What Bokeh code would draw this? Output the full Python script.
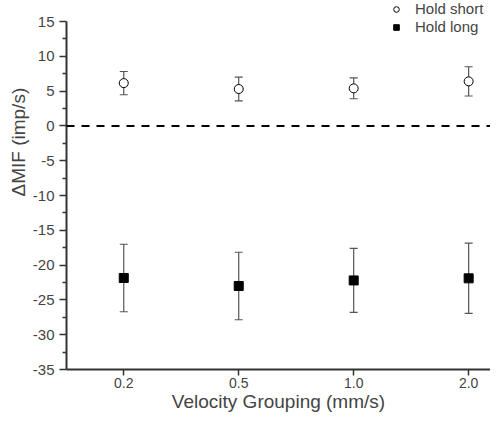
from bokeh.plotting import figure
from bokeh.models import (ColumnDataSource, Whisker, TeeHead, Span, Legend, LegendItem,
                          FixedTicker, Title)
from bokeh.embed import file_html
from bokeh.resources import INLINE

# ---- data ----
categories = ["0.2", "0.5", "1.0", "2.0"]
short_mean = [6.15, 5.3, 5.4, 6.4]
short_err = [1.67, 1.7, 1.5, 2.1]
long_mean = [-21.85, -23.0, -22.2, -21.9]
long_err = [4.85, 4.85, 4.6, 5.05]
y_ticks = [-35, -30, -25, -20, -15, -10, -5, 0, 5, 10, 15]
y_tick_labels = ["-35", "-30", "-25", "-20", "-15", "-10", "-5", "0", "5", "10", "15"]

FONT = "Liberation Sans"
AX = "#333333"

xpos = [i + 1 for i in range(len(categories))]

src_s = ColumnDataSource(dict(x=xpos, y=short_mean,
                              up=[m + e for m, e in zip(short_mean, short_err)],
                              lo=[m - e for m, e in zip(short_mean, short_err)]))
src_l = ColumnDataSource(dict(x=xpos, y=long_mean,
                              up=[m + e for m, e in zip(long_mean, long_err)],
                              lo=[m - e for m, e in zip(long_mean, long_err)]))

FRAME_H = 369
p = figure(width=490, height=414, output_backend="svg", toolbar_location=None,
           x_range=(0.502, 4.19), y_range=(y_ticks[0], 18.02),
           min_border_left=66, min_border_right=0, min_border_top=0, min_border_bottom=45)
p.outline_line_color = None
p.xgrid.visible = False
p.ygrid.visible = False

# x axis
xa = p.xaxis[0]
xa.ticker = FixedTicker(ticks=xpos)
xa.major_label_overrides = {x: c for x, c in zip(xpos, categories)}
xa.major_label_text_font = FONT
xa.major_label_text_font_size = "14px"
xa.major_label_standoff = 2
xa.major_tick_out = 6
xa.major_tick_in = 0
xa.minor_tick_out = 0
xa.axis_line_width = 2
xa.axis_line_color = AX
xa.major_tick_line_color = AX
xa.major_tick_line_width = 1.5
xa.axis_label = "Velocity Grouping (mm/s)"
xa.axis_label_text_font = FONT
xa.axis_label_text_font_size = "19px"
xa.axis_label_text_font_style = "normal"
xa.axis_label_standoff = 0

# y axis
minor = [(a + b) / 2 for a, b in zip(y_ticks[:-1], y_ticks[1:])]
ya = p.yaxis[0]
ya.bounds = (y_ticks[0], y_ticks[-1])
ya.ticker = FixedTicker(ticks=y_ticks, minor_ticks=minor)
ya.major_label_overrides = {t: s for t, s in zip(y_ticks, y_tick_labels)}
ya.major_label_text_font = FONT
ya.major_label_text_font_size = "15px"
ya.major_label_standoff = 5
ya.major_tick_out = 7
ya.major_tick_in = 0
ya.minor_tick_out = 4
ya.minor_tick_in = 0
ya.axis_line_width = 2
ya.axis_line_color = AX
ya.major_tick_line_color = AX
ya.minor_tick_line_color = AX
ya.major_tick_line_width = 1.5
ya.minor_tick_line_width = 1.5

# y axis title, placed off-centre like the reference
p.add_layout(Title(text="\u0394MIF (imp/s)", align="left", offset=173,
                   text_font=FONT, text_font_size="19px", text_font_style="normal",
                   standoff=2), "left")

# zero line
p.add_layout(Span(location=0, dimension="width", line_color="black",
                  line_width=2, line_dash="8 7"))

# error bars
for src in (src_s, src_l):
    w = Whisker(source=src, base="x", upper="up", lower="lo",
                line_color="#555555", line_width=1.2,
                upper_head=TeeHead(size=8, line_color="#555555", line_width=1.2),
                lower_head=TeeHead(size=8, line_color="#555555", line_width=1.2))
    p.add_layout(w)

r_s = p.scatter("x", "y", source=src_s, marker="circle", size=9,
                fill_color="white", line_color="black", line_width=1)
r_l = p.scatter("x", "y", source=src_l, marker="square", size=9,
                fill_color="black", line_color="black", line_width=1)

legend = Legend(items=[LegendItem(label="Hold short", renderers=[r_s]),
                       LegendItem(label="Hold long", renderers=[r_l])],
                location=(323, FRAME_H - 35), orientation="vertical",
                label_text_font=FONT, label_text_font_size="15px",
                glyph_width=14, glyph_height=14, label_standoff=12,
                label_height=17, spacing=1, padding=0, margin=0,
                border_line_color=None, background_fill_alpha=0)
p.add_layout(legend, "center")

open("out.html", "w").write(file_html(p, INLINE))
